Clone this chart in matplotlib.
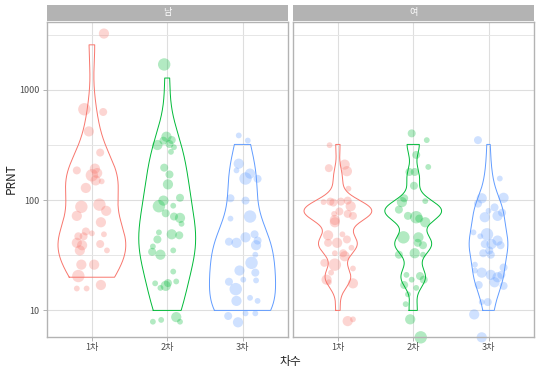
import matplotlib
matplotlib.use("Agg")
import matplotlib.pyplot as plt
import numpy as np

plt.rcParams['font.family'] = ['Noto Sans CJK KR', 'DejaVu Sans']

categories = ["1차", "2차", "3차"]
panels = ["남", "여"]
colors = ["#F8766D", "#00BA38", "#619CFF"]

# PRNT titers (two-fold dilutions) and how many samples sit at each one
dilutions = [10, 20, 40, 80, 160, 320, 640, 1280, 2560]
m1_cnt = [0, 5, 9, 4, 7, 2, 1, 0, 1]
m2_cnt = [4, 5, 8, 6, 5, 4, 0, 1, 0]
m3_cnt = [9, 8, 8, 3, 4, 2, 0, 0, 0]
f1_cnt = [1, 6, 9, 16, 2, 1, 0, 0, 0]
f2_cnt = [2, 6, 9, 14, 3, 3, 0, 0, 0]
f3_cnt = [3, 9, 12, 9, 2, 1, 0, 0, 0]

# jittered points as drawn: value, x jitter, size class
m1_val = [3240, 667, 630, 420, 270, 186, 193, 168, 176, 151, 148, 129, 87, 91, 80, 72,
          63, 52, 50, 47, 47, 49, 41, 39, 40, 35, 35, 26, 26, 20.5, 15.8, 15.8, 17]
m1_jit = [0.16, -0.10, 0.15, -0.04, 0.11, -0.20, 0.04, 0.0, 0.07, 0.05, 0.13, -0.08,
          -0.14, 0.10, 0.19, -0.20, 0.12, -0.08, 0.0, -0.18, -0.11, 0.16, -0.20, -0.13,
          0.11, 0.20, -0.16, -0.14, 0.03, -0.18, -0.20, -0.07, 0.12]
m1_sz = [3, 4, 2, 3, 2, 2, 3, 4, 3, 3, 1, 3, 4, 4, 3, 3, 3, 2, 1, 2, 2, 1, 3, 3, 2, 1,
         3, 3, 3, 4, 1, 1, 3]

m2_val = [1700, 376, 316, 346, 351, 323, 302, 274, 197, 171, 139, 105, 99, 88, 89, 76,
          71, 69, 61, 51, 44, 49, 48, 38, 34, 32, 35, 22.5, 17.6, 16, 16.7, 17.7, 18.3,
          7.9, 8.2, 8.7, 7.9]
m2_jit = [-0.04, -0.01, -0.13, -0.05, 0.06, 0.03, 0.09, 0.05, -0.04, 0.03, 0.01, 0.17,
          -0.05, -0.11, 0.08, -0.02, 0.09, 0.17, 0.19, -0.11, -0.13, 0.06, 0.16, -0.19,
          -0.20, -0.09, 0.08, 0.08, -0.16, -0.09, -0.02, 0.01, 0.12, -0.19, -0.08, 0.12,
          0.17]
m2_sz = [4, 3, 3, 2, 2, 2, 1, 1, 2, 2, 3, 2, 3, 4, 1, 2, 2, 3, 1, 1, 2, 3, 2, 1, 2, 3,
         1, 1, 1, 1, 3, 2, 1, 1, 1, 3, 1]

m3_val = [386, 347, 214, 186, 174, 157, 156, 104, 99, 68, 71, 42, 41, 46, 49, 43, 39,
          32, 27, 22, 23, 18.2, 15.6, 19, 18.7, 12.2, 13, 12.2, 8.9, 7.8, 9.4, 9.4]
m3_jit = [-0.05, 0.07, -0.05, -0.08, 0.10, 0.04, 0.20, -0.16, 0.04, -0.16, 0.10, -0.18,
          -0.08, 0.04, 0.16, 0.20, 0.18, 0.17, 0.12, 0.17, -0.04, -0.18, -0.09, 0.01,
          0.18, -0.08, 0.10, 0.20, -0.19, -0.06, 0.04, 0.17]
m3_sz = [1, 1, 3, 1, 3, 4, 2, 2, 2, 1, 4, 2, 3, 3, 2, 2, 3, 1, 4, 2, 3, 2, 4, 1, 1, 3,
         1, 1, 2, 3, 1, 1]

f1_val = [315, 195, 210, 183, 127, 96, 97, 95, 97, 99, 88, 79, 75, 75, 72, 66, 63, 49,
          48, 41, 41, 44, 37, 33, 33, 31, 27, 26, 24, 22, 19, 18, 17.6, 8.0, 8.3]
f1_jit = [-0.11, -0.12, 0.09, 0.12, 0.14, -0.19, -0.10, -0.06, 0.04, 0.13, 0.17, 0.02,
          -0.05, 0.13, 0.20, -0.04, -0.04, 0.06, -0.13, -0.13, -0.01, 0.12, 0.18, -0.04,
          0.07, 0.09, -0.18, -0.04, 0.20, -0.09, -0.15, -0.12, 0.20, 0.13, 0.20]
f1_sz = [1, 2, 3, 3, 1, 1, 2, 2, 2, 2, 3, 2, 1, 2, 2, 3, 3, 1, 3, 2, 3, 2, 1, 1, 2, 3,
         2, 4, 1, 1, 3, 1, 3, 3, 1]

f2_val = [403, 350, 200, 257, 180, 180, 135, 104, 96, 98, 82, 72, 70, 68, 63, 46, 46,
          41, 39, 32, 33, 32, 21, 20.5, 19, 19, 17, 16, 14, 11.4, 8.3, 5.7]
f2_jit = [-0.02, 0.18, 0.20, 0.04, -0.05, 0.02, 0.01, -0.12, -0.15, 0.16, -0.19, -0.07,
          0.04, 0.08, 0.16, -0.13, 0.07, 0.06, 0.13, -0.19, 0.02, 0.13, -0.09, 0.09,
          0.14, -0.02, -0.12, 0.04, -0.07, -0.10, -0.04, 0.10]
f2_sz = [2, 1, 1, 2, 2, 2, 2, 2, 3, 1, 2, 2, 4, 2, 3, 4, 3, 2, 2, 2, 3, 1, 1, 2, 2, 1,
         2, 1, 1, 1, 3, 4]

f3_val = [350, 157, 104, 93, 105, 86, 80, 70, 72, 77, 51, 47, 49, 40, 40, 43, 39, 35,
          33, 32, 26, 23, 22, 24.5, 21, 20, 21, 17, 18, 16.7, 11.9, 11.9, 9.2, 5.7]
f3_jit = [-0.14, 0.15, -0.09, -0.14, 0.20, 0.08, 0.0, -0.05, 0.12, 0.18, -0.20, -0.11,
          -0.02, -0.05, 0.04, 0.12, 0.16, 0.01, -0.07, 0.03, -0.18, -0.18, -0.09, 0.20,
          0.03, 0.12, 0.17, -0.13, 0.08, 0.20, -0.09, -0.01, -0.19, -0.09]
f3_sz = [2, 1, 3, 2, 3, 2, 1, 3, 3, 2, 1, 1, 4, 2, 3, 3, 2, 2, 2, 2, 1, 1, 3, 2, 3, 3,
         2, 2, 3, 2, 1, 2, 3, 3]

data = {
    "남": ([m1_cnt, m2_cnt, m3_cnt], [m1_val, m2_val, m3_val],
          [m1_jit, m2_jit, m3_jit], [m1_sz, m2_sz, m3_sz]),
    "여": ([f1_cnt, f2_cnt, f3_cnt], [f1_val, f2_val, f3_val],
          [f1_jit, f2_jit, f3_jit], [f1_sz, f2_sz, f3_sz]),
}


def violin_density(v, grid):
    # gaussian kde, bandwidth like R's bw.nrd0
    n = len(v)
    iqr = np.subtract(*np.percentile(v, [75, 25]))
    bw = 0.9 * min(v.std(ddof=1), iqr / 1.34) * n ** -0.2
    d = np.exp(-0.5 * ((grid[:, None] - v[None, :]) / bw) ** 2).sum(axis=1)
    return d / (n * bw * np.sqrt(2 * np.pi))


fig = plt.figure(figsize=(5.43, 3.72), dpi=100)
W, H = 543, 372
ax_x = [46.7, 292.7]
ax_w = 241
ax_top, ax_bot = 21.7, 336.5

for p, name in enumerate(panels):
    ax = fig.add_axes([ax_x[p] / W, 1 - ax_bot / H, ax_w / W, (ax_bot - ax_top) / H])
    cnt_all, vals_all, jit_all, sz_all = data[name]

    grids, dens = [], []
    for k in range(3):
        v = np.log10(np.repeat(dilutions, cnt_all[k]))
        g = np.linspace(v.min(), v.max(), 512)
        grids.append(g)
        dens.append(violin_density(v, g))
    dmax = max(d.max() for d in dens)

    for k in range(3):
        half = 0.45 * dens[k] / dmax
        yy = 10 ** grids[k]
        xs = np.concatenate([k + 1 - half, (k + 1 + half)[::-1], [k + 1 - half[0]]])
        ys = np.concatenate([yy, yy[::-1], [yy[0]]])
        ax.plot(xs, ys, color=colors[k], lw=0.7, zorder=3)

        x = k + 1 + np.array(jit_all[k])
        s = np.array(sz_all[k])
        ax.scatter(x, vals_all[k], s=(1.44 * (1.8 + 1.1 * s)) ** 2, color=colors[k],
                   alpha=0.3, linewidths=0, zorder=2, clip_on=False)

    ax.set_yscale("log")
    ax.set_ylim(5.8, 4150)
    ax.set_xlim(0.4, 3.6)
    ax.set_xticks([1, 2, 3])
    ax.set_xticklabels(categories)
    ax.set_yticks([10, 100, 1000])
    ax.set_yticks([10 ** 1.5, 10 ** 2.5, 10 ** 3.5], minor=True)
    ax.yaxis.set_minor_formatter(matplotlib.ticker.NullFormatter())
    ax.grid(True, which="major", color="#DEDEDE", lw=0.8)
    ax.grid(True, which="minor", axis="y", color="#E6E6E6", lw=0.7)
    ax.set_axisbelow(True)
    for sp in ax.spines.values():
        sp.set_color("#B3B3B3")
        sp.set_linewidth(1.0)
    ax.tick_params(which="major", length=3, width=0.7, color="#B3B3B3",
                   labelsize=6.5, labelcolor="#4D4D4D", pad=2)
    ax.tick_params(which="minor", length=0)
    if p == 0:
        ax.set_yticklabels(["10", "100", "1000"])
        ax.set_ylabel("PRNT", fontsize=8.5, color="#222222", labelpad=1)
    else:
        ax.tick_params(axis="y", which="major", left=False, labelleft=False)

    # facet strip
    sx = fig.add_axes([ax_x[p] / W, 1 - 20.7 / H, ax_w / W, 15.7 / H])
    sx.set_facecolor("#B3B3B3")
    sx.set_xticks([])
    sx.set_yticks([])
    for sp in sx.spines.values():
        sp.set_visible(False)
    sx.text(0.5, 0.5, name, color="white", fontsize=6.5, ha="center", va="center",
            transform=sx.transAxes)

fig.text(290 / W, 1 - 362 / H, "차수", ha="center", va="center", fontsize=8.5, color="#222222")

fig.savefig("out.png", dpi=100)
